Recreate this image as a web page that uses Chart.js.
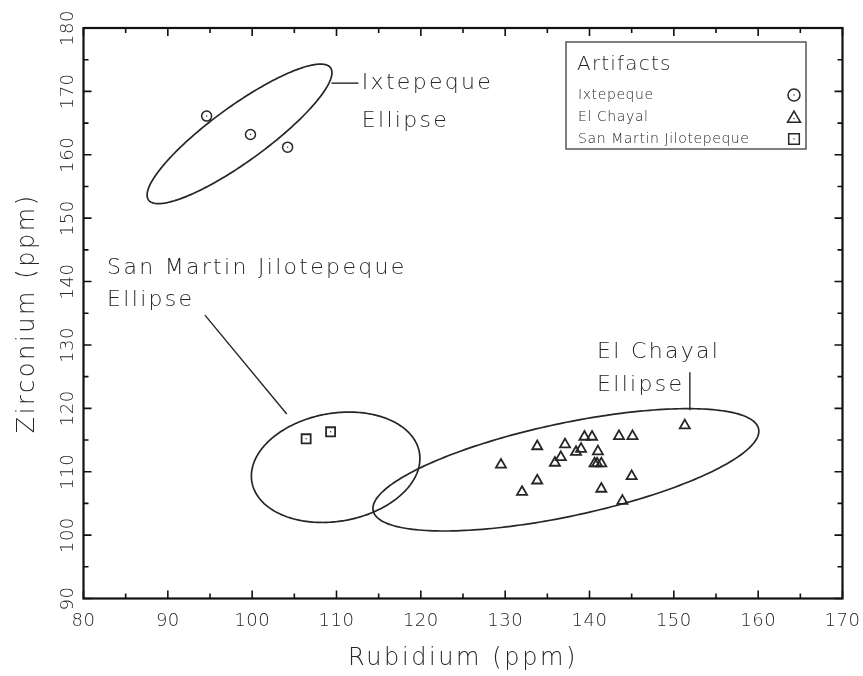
<!DOCTYPE html>
<html>
<head>
<meta charset="utf-8">
<script src="https://cdn.jsdelivr.net/npm/chart.js@4.4.1/dist/chart.umd.min.js"></script>
<style>
  html, body { margin: 0; padding: 0; background: #fff; }
</style>
</head>
<body>
<canvas id="chart" width="863" height="676"></canvas>
<script>
/* ---- data ---- */
const ixtRb = [94.6, 99.8, 104.2];
const ixtZr = [166.1, 163.2, 161.2];

const smjRb = [106.4, 109.3];
const smjZr = [115.2, 116.3];

const chayalRb = [129.5, 132.0, 133.8, 133.8, 135.9, 136.6, 137.1, 138.4, 139.0, 139.4, 140.3,
                  141.0, 140.6, 140.9, 141.4, 141.4, 143.5, 145.1, 145.0, 143.9, 151.3];
const chayalZr = [111.1, 106.8, 114.0, 108.6, 111.4, 112.3, 114.3, 113.1, 113.6, 115.5, 115.5,
                  113.2, 111.3, 111.3, 111.3, 107.3, 115.6, 115.6, 109.3, 105.4, 117.3];

// source ellipses: centre, half major axis vector, half minor axis vector (data units)
const ellipseCx = [98.5, 109.9, 137.2];
const ellipseCy = [163.3, 110.7, 110.3];
const ellipseMajor = [[10.79, 10.43], [9.93, 2.33], [22.85, 6.46]];
const ellipseMinor = [[1.92, -3.51], [1.11, -8.39], [1.15, -7.17]];

// annotation labels and their leader lines (data units)
const noteText = ['Ixtepeque', 'Ellipse', 'San Martin Jilotepeque', 'Ellipse', 'El Chayal', 'Ellipse'];
const noteRb = [113.0, 113.0, 82.8, 82.8, 140.9, 140.9];
const noteZr = [171.3, 165.3, 142.1, 137.1, 128.9, 123.7];
const leaderRb = [[109.4, 112.6], [94.4, 104.1], [151.9, 151.9]];
const leaderZr = [[171.3, 171.3], [134.7, 119.1], [125.7, 119.7]];

const rbTicks = [80, 90, 100, 110, 120, 130, 140, 150, 160, 170];
const zrTicks = [90, 100, 110, 120, 130, 140, 150, 160, 170, 180];
const rbMinor = [85, 95, 105, 115, 125, 135, 145, 155, 165];
const zrMinor = [95, 105, 115, 125, 135, 145, 155, 165, 175];

const legendNames = ['Ixtepeque', 'El Chayal', 'San Martin Jilotepeque'];
const legendStyles = ['circle', 'triangle', 'rect'];

/* ---- helpers ---- */
const INK = '#262626';
const FONT = '"DejaVu Sans", "Liberation Sans", sans-serif';

function drawText(ctx, s, x, y, size, spacing, align, rot) {
  ctx.save();
  ctx.font = `200 ${size}px ${FONT}`;
  ctx.letterSpacing = spacing + 'px';
  ctx.fillStyle = INK;
  ctx.textBaseline = 'middle';
  ctx.textAlign = align || 'left';
  ctx.translate(x, y);
  if (rot) ctx.rotate(rot);
  ctx.fillText(s, 0, 0);
  ctx.restore();
}

const pts = (xs, ys) => xs.map((x, i) => ({ x, y: ys[i] }));

/* ---- plugin: frame, inward ticks, tick labels, titles ---- */
const framePlugin = {
  id: 'frame',
  afterDraw(chart) {
    const { ctx, chartArea: a, scales: { x, y } } = chart;
    ctx.save();
    ctx.strokeStyle = '#111';
    ctx.lineWidth = 1.6;
    const tick = (v, len, horiz) => {
      ctx.beginPath();
      if (horiz) {
        const px = x.getPixelForValue(v);
        ctx.moveTo(px, a.bottom); ctx.lineTo(px, a.bottom - len);
        ctx.moveTo(px, a.top); ctx.lineTo(px, a.top + len);
      } else {
        const py = y.getPixelForValue(v);
        ctx.moveTo(a.left, py); ctx.lineTo(a.left + len, py);
        ctx.moveTo(a.right, py); ctx.lineTo(a.right - len, py);
      }
      ctx.stroke();
    };
    rbTicks.forEach(v => tick(v, 8, true));
    rbMinor.forEach(v => tick(v, 5, true));
    zrTicks.forEach(v => tick(v, 8, false));
    zrMinor.forEach(v => tick(v, 5, false));
    ctx.lineWidth = 2.2;
    ctx.strokeRect(a.left, a.top, a.right - a.left, a.bottom - a.top);
    ctx.restore();

    rbTicks.forEach(v => drawText(ctx, String(v), x.getPixelForValue(v), a.bottom + 23, 18, 0.5, 'center'));
    zrTicks.forEach(v => drawText(ctx, String(v), a.left - 15, y.getPixelForValue(v), 18, 0.5, 'center', -Math.PI / 2));
    drawText(ctx, 'Rubidium (ppm)', (a.left + a.right) / 2, 659, 24, 2.6, 'center');
    drawText(ctx, 'Zirconium (ppm)', 28, (a.top + a.bottom) / 2, 24, 2.6, 'center', -Math.PI / 2);
  }
};

/* ---- plugin: ellipses, notes, centre dots, legend ---- */
const notesPlugin = {
  id: 'notes',
  afterDatasetsDraw(chart) {
    const { ctx, scales: { x, y } } = chart;
    ctx.save();
    ctx.strokeStyle = INK;
    ctx.lineWidth = 1.7;
    ellipseCx.forEach((cx, k) => {
      ctx.beginPath();
      for (let i = 0; i <= 240; i++) {
        const t = i / 240 * Math.PI * 2;
        const vx = cx + ellipseMajor[k][0] * Math.cos(t) + ellipseMinor[k][0] * Math.sin(t);
        const vy = ellipseCy[k] + ellipseMajor[k][1] * Math.cos(t) + ellipseMinor[k][1] * Math.sin(t);
        const px = x.getPixelForValue(vx), py = y.getPixelForValue(vy);
        if (i === 0) ctx.moveTo(px, py); else ctx.lineTo(px, py);
      }
      ctx.closePath();
      ctx.stroke();
    });
    ctx.lineWidth = 1.4;
    leaderRb.forEach((xs, k) => {
      ctx.beginPath();
      ctx.moveTo(x.getPixelForValue(xs[0]), y.getPixelForValue(leaderZr[k][0]));
      ctx.lineTo(x.getPixelForValue(xs[1]), y.getPixelForValue(leaderZr[k][1]));
      ctx.stroke();
    });
    ctx.restore();
    noteText.forEach((s, i) => drawText(ctx, s, x.getPixelForValue(noteRb[i]), y.getPixelForValue(noteZr[i]), 22, 2.3, 'left'));

    // small centre dots in the circle and square markers
    ctx.save();
    ctx.fillStyle = INK;
    [0, 2].forEach(d => chart.getDatasetMeta(d).data.forEach(el => ctx.fillRect(el.x - 0.6, el.y - 0.6, 1.2, 1.2)));
    ctx.restore();

    // legend box
    const bx = 566, by = 42, bw = 240, bh = 107;
    ctx.save();
    ctx.strokeStyle = '#555';
    ctx.lineWidth = 1.5;
    ctx.strokeRect(bx, by, bw, bh);
    ctx.restore();
    drawText(ctx, 'Artifacts', bx + 11, by + 23, 20, 1.2, 'left');
    legendNames.forEach((s, i) => {
      const ly = by + 53 + i * 22;
      drawText(ctx, s, bx + 12, ly, 14, 0.6, 'left');
      const dy = legendStyles[i] === 'triangle' ? 1.5 : 0;
      ctx.save();
      ctx.strokeStyle = INK;
      ctx.fillStyle = 'rgba(0,0,0,0)';
      ctx.lineWidth = 1.5;
      const r = legendStyles[i] === 'circle' ? 6 : 7.5;
      Chart.helpers.drawPoint(ctx, { pointStyle: legendStyles[i], radius: r, borderWidth: 1.5, rotation: 0 },
        bx + 228, ly + dy);
      ctx.fillStyle = INK;
      ctx.fillRect(bx + 227.4, ly - 0.6 + dy, 1.2, 1.2);
      ctx.restore();
    });
  }
};

const markerBase = { backgroundColor: 'rgba(0,0,0,0)', borderColor: INK };

new Chart(document.getElementById('chart').getContext('2d'), {
  type: 'scatter',
  data: {
    datasets: [
      { label: 'Ixtepeque', data: pts(ixtRb, ixtZr), pointStyle: 'circle', pointRadius: 5, borderWidth: 1.5, ...markerBase },
      { label: 'El Chayal', data: pts(chayalRb, chayalZr), pointStyle: 'triangle', pointRadius: 5.8, borderWidth: 1.8, ...markerBase },
      { label: 'San Martin Jilotepeque', data: pts(smjRb, smjZr), pointStyle: 'rect', pointRadius: 6.4, borderWidth: 1.8, ...markerBase }
    ]
  },
  options: {
    responsive: false,
    devicePixelRatio: 1,
    animation: false,
    layout: { padding: { left: 0, top: 28, right: 20.5, bottom: 0 } },
    plugins: { legend: { display: false }, tooltip: { enabled: false } },
    scales: {
      x: {
        type: 'linear', min: 80, max: 170,
        grid: { display: false }, border: { display: false },
        ticks: { display: false },
        afterFit: s => { s.height = 77.5; }
      },
      y: {
        type: 'linear', min: 90, max: 180,
        grid: { display: false }, border: { display: false },
        ticks: { display: false },
        afterFit: s => { s.width = 83.5; }
      }
    }
  },
  plugins: [framePlugin, notesPlugin]
});
</script>
</body>
</html>
